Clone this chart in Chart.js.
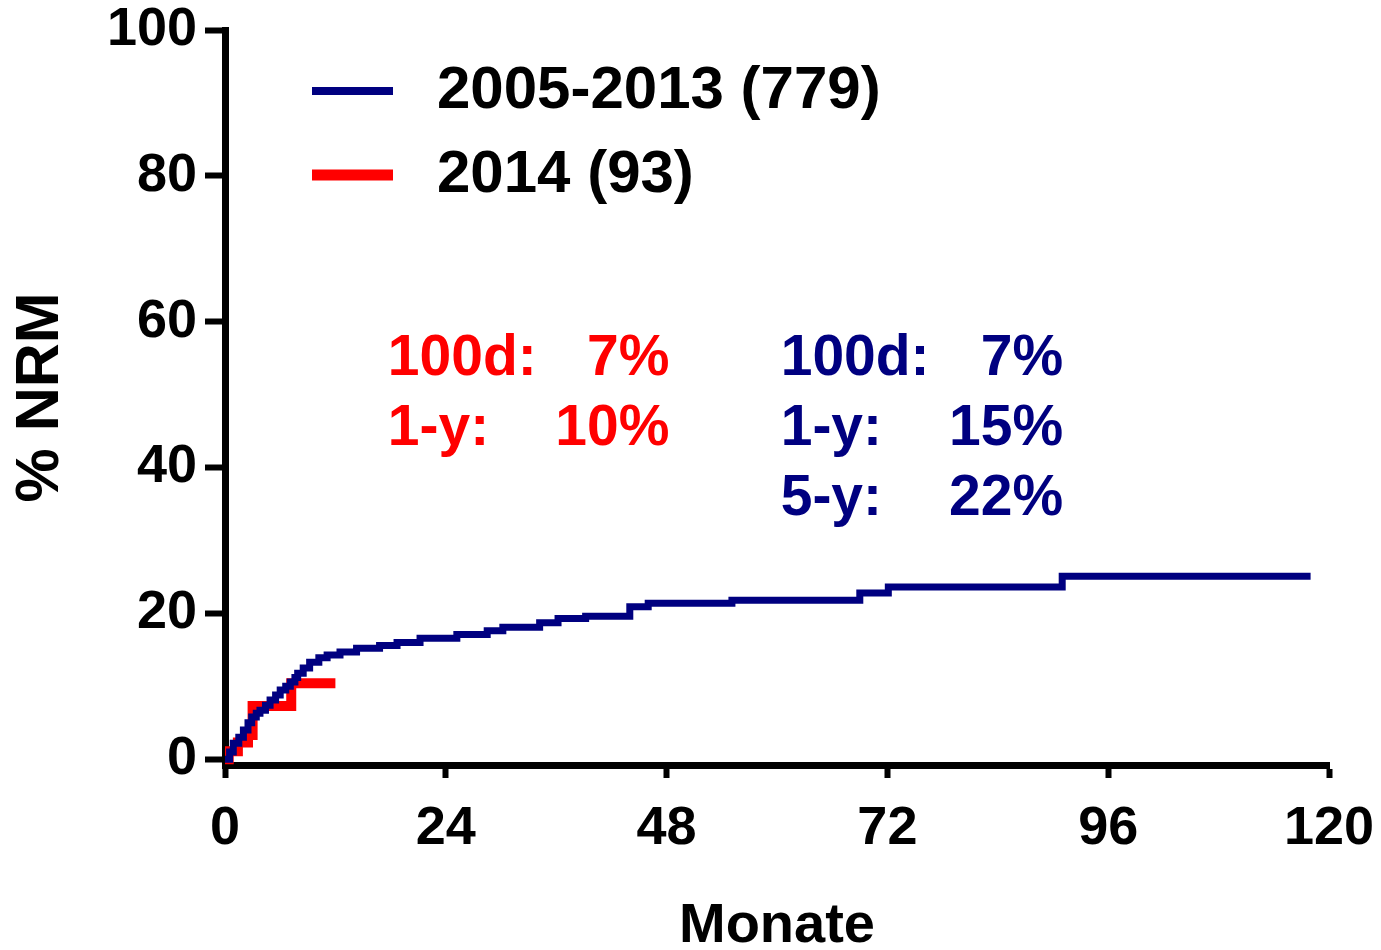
<!DOCTYPE html>
<html>
<head>
<meta charset="utf-8">
<title>% NRM</title>
<script src="https://cdn.jsdelivr.net/npm/chart.js@4.4.1/dist/chart.umd.min.js"></script>
<style>
  html, body { margin: 0; padding: 0; background: #fff; }
  #wrap { width: 1381px; height: 950px; }
</style>
</head>
<body>
<div id="wrap"><canvas id="nrmChart" width="1381" height="950"></canvas></div>
<script>
// axis ticks
const monthTicks = [0, 24, 48, 72, 96, 120]
const nrmTicks = [0, 20, 40, 60, 80, 100]

const cohortLabels = ['2005-2013 (779)', '2014 (93)']
const cohortColors = ['#000080', '#ff0000']

// 2005-2013: month of each step, cumulative NRM in % reached there
const monthsOld = [0, 0.5, 0.9, 1.5, 2.0, 2.5, 2.9, 3.4, 3.8, 4.4, 4.9, 5.5, 6.0, 6.6, 7.1, 7.6, 7.9, 8.5, 9.2, 10.2, 11.1, 12.5, 14.3, 16.8, 18.7, 21.2, 25.2, 28.5, 30.2, 34.2, 36.2, 39.2, 44.0, 46.0, 55.1, 69.0, 72.1, 91.0, 118.0]
const nrmOld = [0, 1.0, 2.2, 3.0, 4.0, 5.0, 5.8, 6.3, 6.7, 7.4, 8.1, 8.8, 9.5, 10.0, 10.6, 11.2, 11.8, 12.5, 13.3, 13.9, 14.3, 14.7, 15.2, 15.6, 16.0, 16.6, 17.1, 17.6, 18.1, 18.7, 19.3, 19.6, 20.9, 21.4, 21.8, 22.8, 23.6, 25.1, 25.1]

// 2014
const monthsNew = [0, 0.4, 1.4, 2.5, 3.0, 7.2, 12.0]
const nrmNew = [0, 1.1, 2.3, 3.3, 7.3, 10.4, 10.4]

const statsNew = [['100d:', '7%'], ['1-y:', '10%']]
const statsOld = [['100d:', '7%'], ['1-y:', '15%'], ['5-y:', '22%']]

const toPoints = (xs, ys) => xs.map((x, i) => ({ x: x, y: ys[i] }))

Chart.defaults.font.family = "'Liberation Sans', Arial, sans-serif"
Chart.defaults.font.weight = 'bold'
Chart.defaults.color = '#000'

// legend drawn inside the plot, top left
const insideLegend = {
  id: 'insideLegend',
  afterDraw(chart, args, opts) {
    const ctx = chart.ctx
    const area = chart.chartArea
    ctx.save()
    ctx.font = `bold ${opts.fontSize}px 'Liberation Sans', Arial, sans-serif`
    ctx.textBaseline = 'middle'
    ctx.textAlign = 'left'
    chart.data.datasets.forEach((ds, i) => {
      const y = area.top + opts.top + i * opts.rowHeight
      ctx.fillStyle = ds.borderColor
      const h = ds.borderWidth + 1
      ctx.fillRect(area.left + opts.lineX, y - h / 2, opts.lineWidth, h)
      ctx.fillStyle = '#000'
      ctx.fillText(ds.label, area.left + opts.textX, y)
    })
    ctx.restore()
  }
}

// the 100d / 1-y / 5-y figures, placed in data units
const statsText = {
  id: 'statsText',
  afterDraw(chart, args, opts) {
    const ctx = chart.ctx
    const xs = chart.scales.x
    const ys = chart.scales.y
    ctx.save()
    ctx.font = `bold ${opts.fontSize}px 'Liberation Sans', Arial, sans-serif`
    ctx.textBaseline = 'alphabetic'
    opts.blocks.forEach(block => {
      ctx.fillStyle = block.color
      block.rows.forEach((row, i) => {
        const y = ys.getPixelForValue(block.y - i * opts.rowStep)
        ctx.textAlign = 'left'
        ctx.fillText(row[0], xs.getPixelForValue(block.x), y)
        ctx.textAlign = 'right'
        ctx.fillText(row[1], xs.getPixelForValue(block.valueX), y)
      })
    })
    ctx.restore()
  }
}

new Chart(document.getElementById('nrmChart'), {
  type: 'line',
  data: {
    datasets: [{
      label: cohortLabels[0],
      data: toPoints(monthsOld, nrmOld),
      borderColor: cohortColors[0],
      backgroundColor: cohortColors[0],
      borderWidth: 7,
      stepped: 'before',
      pointRadius: 0,
      fill: false
    }, {
      label: cohortLabels[1],
      data: toPoints(monthsNew, nrmNew),
      borderColor: cohortColors[1],
      backgroundColor: cohortColors[1],
      borderWidth: 10,
      stepped: 'before',
      pointRadius: 0,
      fill: false
    }]
  },
  options: {
    responsive: false,
    animation: false,
    devicePixelRatio: 1,
    layout: { padding: { left: 0, top: 30, right: 52, bottom: 0 } },
    plugins: {
      legend: { display: false },
      tooltip: { enabled: false },
      insideLegend: { fontSize: 60, top: 61, rowHeight: 84, lineX: 87, lineWidth: 81, textX: 212 },
      statsText: {
        fontSize: 57,
        rowStep: 9.6,
        blocks: [
          { rows: statsNew, color: cohortColors[1], x: 17.7, valueX: 48.3, y: 52.7 },
          { rows: statsOld, color: cohortColors[0], x: 60.4, valueX: 91.1, y: 52.7 }
        ]
      }
    },
    scales: {
      x: {
        type: 'linear',
        min: 0,
        max: 120,
        afterBuildTicks: scale => { scale.ticks = monthTicks.map(v => ({ value: v })) },
        afterFit: scale => {
          scale.height = 185
          scale.paddingLeft = 0
          scale.paddingRight = 0
        },
        grid: { drawOnChartArea: false, tickLength: 13, tickWidth: 6, tickColor: '#000' },
        border: { color: '#000', width: 7 },
        ticks: { color: '#000', padding: 24, maxRotation: 0, autoSkip: false, font: { size: 54, weight: 'bold', lineHeight: 1 } },
        title: { display: true, text: 'Monate', color: '#000', padding: 0, font: { size: 56, weight: 'bold', lineHeight: 0.82 } }
      },
      y: {
        type: 'linear',
        min: -0.8,
        max: 100,
        afterBuildTicks: scale => { scale.ticks = nrmTicks.map(v => ({ value: v })) },
        afterFit: scale => {
          scale.width = 225
          scale.paddingTop = 0
          scale.paddingBottom = 0
        },
        grid: { drawOnChartArea: false, tickLength: 20, tickWidth: 6, tickColor: '#000' },
        border: { color: '#000', width: 7 },
        ticks: { color: '#000', padding: 8, font: { size: 54, weight: 'bold', lineHeight: 1 } },
        title: { display: true, text: '% NRM', color: '#000', padding: { top: 11, bottom: 0 }, font: { size: 61, weight: 'bold', lineHeight: 1 } }
      }
    }
  },
  plugins: [insideLegend, statsText]
})
</script>
</body>
</html>
